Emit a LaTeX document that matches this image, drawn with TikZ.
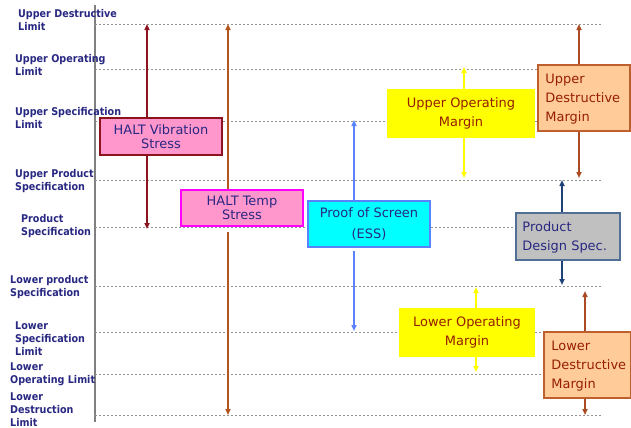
\documentclass[tikz,border=0pt]{standalone}
\usepackage{fontspec}
\setmainfont{DejaVu Sans}
\newfontfamily\labfont{DejaVu Sans}[FakeStretch=0.9]
\usetikzlibrary{arrows.meta}
\definecolor{navy}{RGB}{40,40,130}
\definecolor{vibred}{RGB}{140,20,30}
\definecolor{temparr}{RGB}{180,85,30}
\definecolor{halpink}{RGB}{255,150,204}
\definecolor{magbord}{RGB}{255,0,255}
\definecolor{essblue}{RGB}{90,130,255}
\definecolor{cyanf}{RGB}{0,255,255}
\definecolor{yel}{RGB}{255,255,0}
\definecolor{dmarr}{RGB}{170,75,35}
\definecolor{dmfill}{RGB}{255,204,153}
\definecolor{dmbord}{RGB}{190,95,45}
\definecolor{mtext}{RGB}{150,30,0}
\definecolor{pdsarr}{RGB}{30,65,120}
\definecolor{pdsfill}{RGB}{192,192,192}
\definecolor{pdsbord}{RGB}{80,110,150}
\begin{document}
\begin{tikzpicture}[x=1bp,y=-1bp,
  lim/.style={draw=gray!85, line width=0.8bp, dash pattern=on 2bp off 2bp},
  lab/.style={anchor=base west, align=left, inner sep=0, text=navy, font=\labfont\bfseries\fontsize{10.7}{12.7}\selectfont},
  box/.style={inner sep=0, line width=1.5bp, font=\fontsize{13}{13.5}\selectfont, align=center},
  mtxt/.style={inner sep=0, align=left, text=mtext, font=\fontsize{13}{19}\selectfont},
  arr/.style={line width=2bp, -{Triangle[length=6bp,width=5bp]}},
]
\useasboundingbox (0,0) rectangle (631,427);
% axis and levels
\draw[gray, line width=1.5bp] (95,5) -- (95,422);
\foreach \yy in {24,69,121,180,227,286,332,374,415}
  \draw[lim] (95,\yy) -- (602,\yy);
% left labels (anchored at the baseline of their last line)
\node[lab] (l1) at (18,30) {Upper Destructive\\Limit};
\node[lab] (l2) at (15,75) {Upper Operating\\Limit};
\node[lab] (l3) at (15,128) {Upper Specification\\Limit};
\node[lab] (l4) at (15,190) {Upper Product\\Specification};
\node[lab] (l5) at (21,235) {Product\\Specification};
\node[lab] (l6) at (10,296) {Lower product\\Specification};
\node[lab] (l7) at (15,355) {Lower\\Specification\\Limit};
\node[lab] (l8) at (10,383) {Lower\\Operating Limit};
\node[lab] (l9) at (10,426) {Lower\\Destruction\\Limit};
% boxes
\node[box, fill=halpink, draw=vibred, minimum width=122bp, minimum height=37bp, text=navy] (vib) at (161,136.5) {HALT Vibration\\Stress};
\node[box, fill=halpink, draw=magbord, minimum width=122bp, minimum height=36bp, text=navy] (temp) at (242,208) {HALT Temp\\Stress};
\node[box, fill=cyanf, draw=essblue, minimum width=122bp, minimum height=46bp, text=navy, font=\fontsize{13}{21.5}\selectfont] (ess) at (369,224) {Proof of Screen\\(ESS)};
\node[box, fill=yel, draw=yel, minimum width=146bp, minimum height=48bp, text=mtext, font=\fontsize{13}{19.5}\selectfont, yshift=-1.5bp] (uom) at (461,112) {Upper Operating\\Margin};
\node[box, fill=yel, draw=yel, minimum width=134bp, minimum height=47bp, text=mtext, font=\fontsize{13}{19.5}\selectfont, yshift=-1bp] (lom) at (467,331.5) {Lower Operating\\Margin};
\node[box, fill=dmfill, draw=dmbord, minimum width=92bp, minimum height=66bp] (udm) at (584,98) {};
\node[mtxt, anchor=west, yshift=-1.5bp] (udmt) at ([xshift=8bp]udm.west) {Upper\\Destructive\\Margin};
\node[box, fill=dmfill, draw=dmbord, minimum width=87bp, minimum height=66bp] (ldm) at (587.5,365) {};
\node[mtxt, anchor=west, yshift=-1.5bp] (ldmt) at ([xshift=8bp]ldm.west) {Lower\\Destructive\\Margin};
\node[box, fill=pdsfill, draw=pdsbord, minimum width=104bp, minimum height=47bp] (pds) at (568,236.5) {};
\node[mtxt, anchor=west, text=navy, yshift=-1bp] (pdst) at ([xshift=7bp]pds.west) {Product\\Design Spec.};
% arrow end points
\coordinate (vibT) at (147,24);  \coordinate (vibB) at (147,229);
\coordinate (tmpT) at (228,24);  \coordinate (tmpB) at (228,415);
\coordinate (essT) at (354,120); \coordinate (essB) at (354,331);
\coordinate (uomT) at (464,67);  \coordinate (uomB) at (464,178);
\coordinate (udmT) at (579,24);  \coordinate (udmB) at (579,178);
\coordinate (pdsT) at (562,180); \coordinate (pdsB) at (562,285);
\coordinate (lomT) at (476,287); \coordinate (lomB) at (476,372);
\coordinate (ldmT) at (585,291); \coordinate (ldmB) at (585,415);
% arrows
\draw[arr, vibred] (vib.north -| vibT) -- (vibT);
\draw[arr, vibred] (vib.south -| vibB) -- (vibB);
\draw[arr, temparr] (temp.north -| tmpT) -- (tmpT);
\draw[arr, temparr, shorten <=5bp] (temp.south -| tmpB) -- (tmpB);
\draw[arr, essblue] (ess.north -| essT) -- (essT);
\draw[arr, essblue, shorten <=3bp] (ess.south -| essB) -- (essB);
\draw[arr, yel] (uom.north -| uomT) -- (uomT);
\draw[arr, yel] (uom.south -| uomB) -- (uomB);
\draw[arr, dmarr] (udm.north -| udmT) -- (udmT);
\draw[arr, dmarr] (udm.south -| udmB) -- (udmB);
\draw[arr, pdsarr] (pds.north -| pdsT) -- (pdsT);
\draw[arr, pdsarr] (pds.south -| pdsB) -- (pdsB);
\draw[arr, yel] (lom.north -| lomT) -- (lomT);
\draw[arr, yel] (lom.south -| lomB) -- (lomB);
\draw[arr, dmarr] (ldm.north -| ldmT) -- (ldmT);
\draw[arr, dmarr] (ldm.south -| ldmB) -- (ldmB);
\end{tikzpicture}
\end{document}
